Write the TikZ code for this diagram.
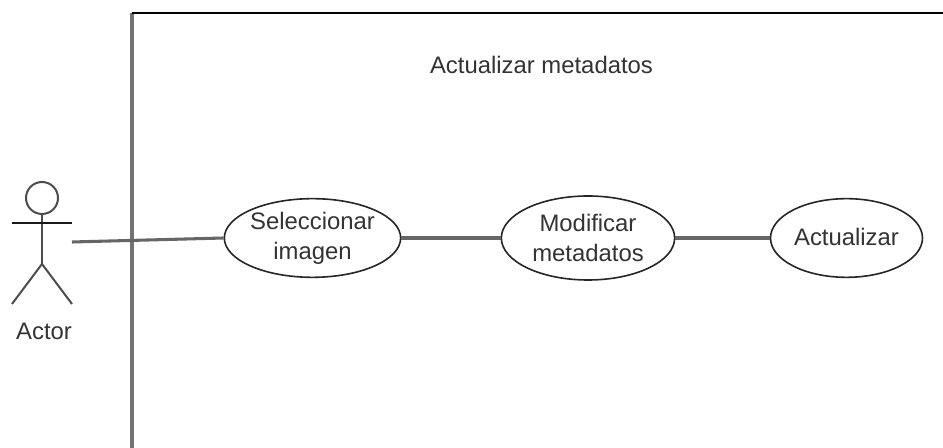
\documentclass[tikz,border=0pt]{standalone}
\usepackage{fontspec}
\setmainfont{Liberation Sans}
\usetikzlibrary{shapes.geometric}
\tikzset{
  uc/.style={draw=black!85,line width=1.2pt,ellipse,inner sep=0pt,align=center,text=black!80,font=\fontsize{17.9}{23.5}\selectfont},
  lbl/.style={inner sep=0pt,text=black!80,font=\fontsize{17.9}{22}\selectfont},
  wire/.style={draw=black!60,line width=2.3pt},
  stick/.style={draw=black!70,line width=1.5pt},
}
\begin{document}
\begin{tikzpicture}[x=0.75pt,y=-0.75pt]
\useasboundingbox (0,0) rectangle (943,448);
\fill[white] (0,0) rectangle (943,448);
\coordinate (fb) at (132,448);
\coordinate (ft) at (132,13);
\coordinate (fr) at (943,13);
\draw[draw=black!55,line width=2.4pt] (fb) -- (ft);
\draw[draw=black,line width=1.4pt] (ft) -- (fr);
\node[lbl] (title) at (541.5,65) {Actualizar metadatos};
% actor
\node[stick,circle,minimum size=24pt,inner sep=0pt] (head) at (42,198) {};
\coordinate (armL) at (12,223);
\coordinate (armR) at (72,223);
\coordinate (hip) at (42,264);
\coordinate (legL) at (12,304);
\coordinate (legR) at (72,304);
\coordinate (hand) at (72,242);
\draw[stick] (head.south) -- (hip);
\draw[draw=black!90,line width=1.1pt] (armL) -- (armR);
\draw[stick] (legL) -- (hip) -- (legR);
\node[lbl] (actor) at (44,331) {Actor};
% use cases
\node[uc,minimum width=130.5pt,minimum height=59pt] (u1) at (312.5,238) {Seleccionar\\[-1pt]imagen};
\node[uc,minimum width=130pt,minimum height=63pt] (u2) at (588,238) {Modificar\\[-1pt]metadatos};
\node[uc,minimum width=114pt,minimum height=59pt,text depth=0pt] (u3) at (846.5,238) {\raisebox{1.5pt}{Actualizar}};
\draw[wire] (hand) -- (u1.west);
\draw[wire] (u1.east) -- (u2.west);
\draw[wire] (u2.east) -- (u3.west);
\end{tikzpicture}
\end{document}
